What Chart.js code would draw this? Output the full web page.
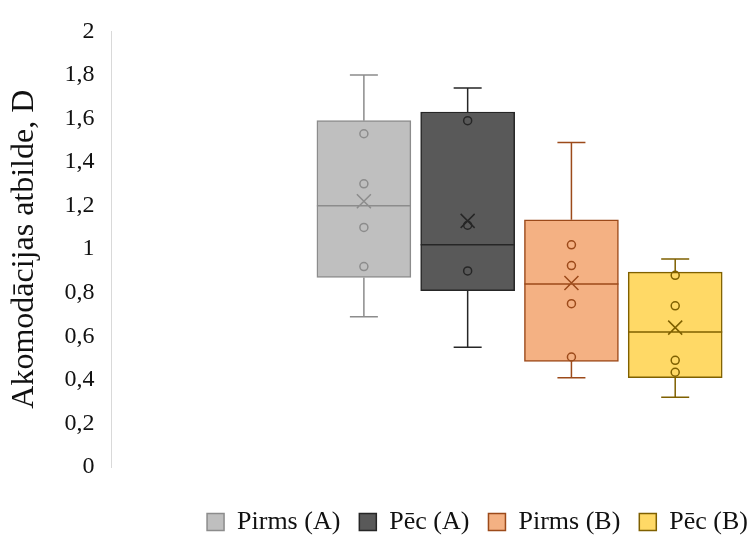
<!DOCTYPE html>
<html>
<head>
<meta charset="utf-8">
<script src="https://cdn.jsdelivr.net/npm/chart.js@4/dist/chart.umd.min.js"></script>
<style>
  html, body { margin: 0; padding: 0; background: #fff; }
  #wrap { width: 752px; height: 538px; }
</style>
</head>
<body>
<div id="wrap"><canvas id="boxChart"></canvas></div>
<script>
// grupas
var seriesNames = ['Pirms (A)', 'Pēc (A)', 'Pirms (B)', 'Pēc (B)'];
var seriesPos = [1, 2, 3, 4];

// box & whisker vērtības (nolasītas no attēla)
var minVals    = [0.69, 0.55, 0.41, 0.32];
var q1Vals     = [0.87, 0.81, 0.485, 0.41];
var medianVals = [1.20, 1.02, 0.84, 0.62];
var q3Vals     = [1.59, 1.63, 1.135, 0.895];
var maxVals    = [1.80, 1.74, 1.49, 0.955];
var meanVals   = [1.22, 1.13, 0.845, 0.64];

// iekšējie punkti
var innerA1 = [1.53, 1.30, 1.10, 0.92];
var innerA2 = [1.59, 1.11, 0.90];
var innerB1 = [1.02, 0.925, 0.75, 0.505];
var innerB2 = [0.88, 0.74, 0.49, 0.435];
var innerPoints = [innerA1, innerA2, innerB1, innerB2];

var yTicks = [0, 0.2, 0.4, 0.6, 0.8, 1, 1.2, 1.4, 1.6, 1.8, 2];

var fills   = ['#bfbfbf', '#595959', '#f4b183', '#ffd966'];
var strokes = ['#8c8c8c', '#262626', '#9c4a1a', '#7f6000'];

var datasets = seriesNames.map(function(name, i){
	return {
		label: name,
		data: [{ x: seriesPos[i], y: [q1Vals[i], q3Vals[i]] }],
		backgroundColor: fills[i],
		borderColor: strokes[i],
		borderWidth: 1.5,
		borderSkipped: false,
		barThickness: 94
	};
});

// ūsas, mediāna, vidējais un punkti
var boxExtras = {
	id: 'boxExtras',
	afterDatasetsDraw: function(chart){
		var ctx = chart.ctx;
		var ys = chart.scales.y;
		chart.data.datasets.forEach(function(ds, i){
			var bar = chart.getDatasetMeta(i).data[0];
			if (!bar) return;
			var cx = bar.x;
			var half = bar.width / 2;
			var capHalf = 14;
			ctx.save();
			ctx.strokeStyle = strokes[i];
			ctx.lineWidth = 1.5;

			var yMax = ys.getPixelForValue(maxVals[i]);
			var yQ3 = ys.getPixelForValue(q3Vals[i]);
			var yQ1 = ys.getPixelForValue(q1Vals[i]);
			var yMin = ys.getPixelForValue(minVals[i]);
			var yMed = ys.getPixelForValue(medianVals[i]);
			var yMean = ys.getPixelForValue(meanVals[i]);

			ctx.beginPath();
			ctx.moveTo(cx, yQ3); ctx.lineTo(cx, yMax);
			ctx.moveTo(cx - capHalf, yMax); ctx.lineTo(cx + capHalf, yMax);
			ctx.moveTo(cx, yQ1); ctx.lineTo(cx, yMin);
			ctx.moveTo(cx - capHalf, yMin); ctx.lineTo(cx + capHalf, yMin);
			ctx.moveTo(cx - half, yMed); ctx.lineTo(cx + half, yMed);
			// X vidējam
			ctx.moveTo(cx - 7, yMean - 7); ctx.lineTo(cx + 7, yMean + 7);
			ctx.moveTo(cx - 7, yMean + 7); ctx.lineTo(cx + 7, yMean - 7);
			ctx.stroke();

			innerPoints[i].forEach(function(v){
				ctx.beginPath();
				ctx.arc(cx, ys.getPixelForValue(v), 4, 0, Math.PI * 2);
				ctx.stroke();
			});
			ctx.restore();
		});
	}
};

var ctx = document.querySelector('#boxChart');
var myChart = new Chart(ctx, {
	type: 'bar',
	data: { datasets: datasets },
	options: {
		responsive: true,
		maintainAspectRatio: false,
		animation: false,
		grouped: false,
		layout: { padding: { left: 5, top: 29, right: -15, bottom: 0 } },
		plugins: {
			tooltip: { enabled: false },
			legend: {
				position: 'bottom',
				align: 'end',
				maxHeight: 48,
				labels: {
					boxWidth: 17,
					boxHeight: 17,
					padding: 19,
					color: '#111',
					font: { family: 'Liberation Serif', size: 26 }
				}
			}
		},
		scales: {
			x: {
				type: 'linear',
				offset: false,
				min: -1.433,
				max: 4.74,
				grid: { display: false, drawTicks: false },
				border: { display: false },
				ticks: { display: false },
				afterFit: function(scale){ scale.height = 23; }
			},
			y: {
				min: 0,
				max: 2,
				afterBuildTicks: function(scale){
					scale.ticks = yTicks.map(function(v){ return { value: v }; });
				},
				grid: { display: false, drawTicks: false },
				border: { display: true, color: '#d9d9d9', width: 1 },
				ticks: {
					padding: 17,
					color: '#111',
					font: { family: 'Liberation Serif', size: 24 },
					callback: function(v){
						return String(Math.round(v * 10) / 10).replace('.', ',');
					}
				},
				title: {
					display: true,
					text: 'Akomodācijas atbilde, D',
					color: '#111',
					padding: { top: 0, bottom: 4 },
					font: { family: 'Liberation Serif', size: 32, weight: 'normal' }
				}
			}
		}
	},
	plugins: [boxExtras]
});
</script>
</body>
</html>
